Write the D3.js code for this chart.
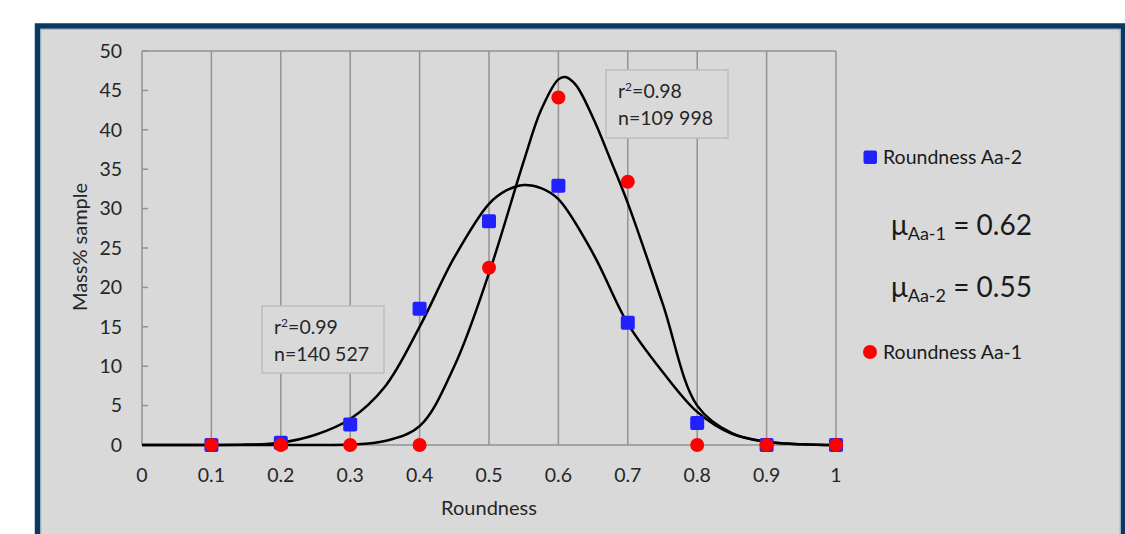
<!DOCTYPE html>
<html>
<head>
<meta charset="utf-8">
<script src="https://cdn.jsdelivr.net/npm/d3@7"></script>
<style>
  html, body { margin: 0; padding: 0; background: #fff; }
  svg { display: block; font-family: Lato, "Noto Sans", sans-serif; }
</style>
</head>
<body>
<svg width="1125" height="534"></svg>
<script>
// measured points
const roundness = [0.1, 0.2, 0.3, 0.4, 0.5, 0.6, 0.7, 0.8, 0.9, 1];
const massAa2 = [0, 0.3, 2.6, 17.3, 28.4, 32.9, 15.5, 2.8, 0, 0];
const massAa1 = [0, 0, 0, 0, 22.5, 44.1, 33.4, 0, 0, 0];

// fitted curves
const fitAa2X = [0, 0.1, 0.15, 0.2, 0.25, 0.3, 0.35, 0.4, 0.45, 0.5, 0.525, 0.55, 0.575, 0.6, 0.65, 0.7, 0.75, 0.8, 0.85, 0.9, 0.95, 1];
const fitAa2Y = [0, 0, 0.05, 0.3, 1.3, 3.3, 7.4, 15, 23.8, 30.6, 32.3, 33, 32.6, 31.2, 24.3, 15.4, 9.3, 4.2, 1.4, 0.4, 0.1, 0];
const fitAa1X = [0, 0.25, 0.3, 0.35, 0.4, 0.45, 0.5, 0.55, 0.575, 0.6, 0.61, 0.625, 0.65, 0.675, 0.7, 0.75, 0.8, 0.85, 0.9, 0.95, 1];
const fitAa1Y = [0, 0, 0.05, 0.5, 2.4, 10, 21.8, 36, 42.5, 46.4, 46.7, 45.7, 41.5, 36.2, 30.7, 18, 5, 1.5, 0.4, 0.1, 0];

const xTicks = [0, 0.1, 0.2, 0.3, 0.4, 0.5, 0.6, 0.7, 0.8, 0.9, 1];
const yTicks = [0, 5, 10, 15, 20, 25, 30, 35, 40, 45, 50];

const svg = d3.select('svg');

// frame
svg.append('rect')
    .attr('x', 37.5).attr('y', 26)
    .attr('width', 1086).attr('height', 600)
    .attr('fill', '#d9d9d9')
    .attr('stroke', '#0a3865')
    .attr('stroke-width', 5.5);
svg.append('rect')
    .attr('x', 40.8).attr('y', 29.3)
    .attr('width', 1079.4).attr('height', 600)
    .attr('fill', 'none')
    .attr('stroke', '#9aaec4')
    .attr('stroke-width', 1);

const x = d3.scaleLinear().domain([0, 1]).range([142, 836]);
const y = d3.scaleLinear().domain([0, 50]).range([445, 51]);

const plot = svg.append('g');

// vertical grid
plot.selectAll('.grid')
    .data(xTicks.slice(1))
    .join('line')
        .attr('x1', d => x(d)).attr('x2', d => x(d))
        .attr('y1', y(50)).attr('y2', y(0))
        .attr('stroke', '#929292')
        .attr('stroke-width', 1.5);

// top edge, left axis, bottom axis
plot.append('line')
    .attr('x1', x(0)).attr('x2', x(1)).attr('y1', y(50)).attr('y2', y(50))
    .attr('stroke', '#929292').attr('stroke-width', 1.5);
plot.append('line')
    .attr('x1', x(0)).attr('x2', x(0)).attr('y1', y(50)).attr('y2', y(0))
    .attr('stroke', '#929292').attr('stroke-width', 1.5);
plot.append('line')
    .attr('x1', x(0)).attr('x2', x(1)).attr('y1', y(0)).attr('y2', y(0))
    .attr('stroke', '#929292').attr('stroke-width', 1.5);

// y ticks inside
plot.selectAll('.ytick')
    .data(yTicks)
    .join('line')
        .attr('x1', x(0)).attr('x2', x(0) + 6)
        .attr('y1', d => y(d)).attr('y2', d => y(d))
        .attr('stroke', '#929292').attr('stroke-width', 1.5);

plot.selectAll('.ylab')
    .data(yTicks)
    .join('text')
        .attr('x', 122)
        .attr('y', d => y(d))
        .attr('dy', '0.35em')
        .attr('text-anchor', 'end')
        .attr('font-size', 19.5)
        .attr('fill', '#262626')
        .text(d => d);

plot.selectAll('.xlab')
    .data(xTicks)
    .join('text')
        .attr('x', d => x(d))
        .attr('y', 475)
        .attr('dy', '0.35em')
        .attr('text-anchor', 'middle')
        .attr('font-size', 19.5)
        .attr('fill', '#262626')
        .text(d => d);

svg.append('text')
    .attr('x', x(0.5)).attr('y', 508).attr('dy', '0.35em')
    .attr('text-anchor', 'middle')
    .attr('font-size', 20).attr('fill', '#262626')
    .text('Roundness');

svg.append('text')
    .attr('transform', 'translate(80, 247) rotate(-90)')
    .attr('dy', '0.35em')
    .attr('text-anchor', 'middle')
    .attr('font-size', 20).attr('fill', '#262626')
    .text('Mass% sample');

// annotation boxes
function noteBox(bx, by, bw, bh, r2, n) {
    const g = svg.append('g');
    g.append('rect')
        .attr('x', bx).attr('y', by).attr('width', bw).attr('height', bh)
        .attr('fill', '#d9d9d9').attr('stroke', '#bdbdbd').attr('stroke-width', 1.5);
    const t1 = g.append('text')
        .attr('x', bx + 12).attr('y', by + 21).attr('dy', '0.35em')
        .attr('font-size', 19.5).attr('fill', '#262626');
    t1.append('tspan').text('r');
    t1.append('tspan').attr('font-size', 12).attr('dy', -7).text('2');
    t1.append('tspan').attr('dy', 7).text('=' + r2);
    g.append('text')
        .attr('x', bx + 12).attr('y', by + 48).attr('dy', '0.35em')
        .attr('font-size', 19.5).attr('fill', '#262626')
        .text('n=' + n);
}
noteBox(262, 306, 122, 67, '0.99', '140 527');
noteBox(606, 70, 122, 68, '0.98', '109 998');

// fitted curves
const line = d3.line()
    .x(d => x(d[0]))
    .y(d => y(d[1]))
    .curve(d3.curveCatmullRom.alpha(0.5));

svg.append('path')
    .attr('d', line(d3.zip(fitAa2X, fitAa2Y)))
    .attr('fill', 'none').attr('stroke', '#000').attr('stroke-width', 2.5);
svg.append('path')
    .attr('d', line(d3.zip(fitAa1X, fitAa1Y)))
    .attr('fill', 'none').attr('stroke', '#000').attr('stroke-width', 2.5);

// points
const blue = '#2121ff';
const red = '#ff0000';
svg.selectAll('.sq')
    .data(d3.zip(roundness, massAa2))
    .join('rect')
        .attr('x', d => x(d[0]) - 7)
        .attr('y', d => y(d[1]) - 7)
        .attr('width', 14).attr('height', 14)
        .attr('rx', 2)
        .attr('fill', blue);
svg.selectAll('.dot')
    .data(d3.zip(roundness, massAa1))
    .join('circle')
        .attr('cx', d => x(d[0]))
        .attr('cy', d => y(d[1]))
        .attr('r', 7)
        .attr('fill', red);

// legend
svg.append('rect')
    .attr('x', 863.5).attr('y', 150.5).attr('width', 13.5).attr('height', 13.5)
    .attr('rx', 2).attr('fill', blue);
svg.append('text')
    .attr('x', 883).attr('y', 157).attr('dy', '0.35em')
    .attr('font-size', 19.5).attr('fill', '#1a1a1a')
    .text('Roundness Aa-2');
svg.append('circle')
    .attr('cx', 870).attr('cy', 352).attr('r', 7).attr('fill', red);
svg.append('text')
    .attr('x', 883).attr('y', 352).attr('dy', '0.35em')
    .attr('font-size', 19.5).attr('fill', '#1a1a1a')
    .text('Roundness Aa-1');

// means
function meanLabel(ly, sub, val) {
    const t = svg.append('text')
        .attr('x', 891).attr('y', ly)
        .attr('font-size', 28).attr('fill', '#1a1a1a');
    t.append('tspan').text('μ');
    t.append('tspan').attr('font-size', 18).attr('dy', 5).text(sub);
    t.append('tspan').attr('dy', -5).text(' = ' + val);
}
meanLabel(235, 'Aa-1', '0.62');
meanLabel(297, 'Aa-2', '0.55');
</script>
</body>
</html>
